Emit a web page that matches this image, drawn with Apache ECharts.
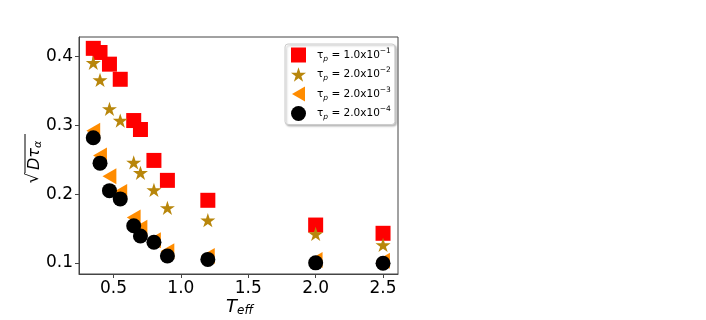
<!DOCTYPE html>
<html><head><meta charset="utf-8">
<script src="https://cdn.jsdelivr.net/npm/echarts@6/dist/echarts.min.js"></script>
<style>html,body{margin:0;padding:0;background:#fff}#c{width:706px;height:320px}</style>
</head><body><div id="c"></div>
<script>
const xVals = [0.35, 0.40, 0.47, 0.55, 0.65, 0.70, 0.80, 0.90, 1.20, 2.00, 2.50];
const tau1 = [0.412, 0.406, 0.389, 0.367, 0.307, 0.294, 0.249, 0.220, 0.191, 0.155, 0.143];
const tau2 = [0.391, 0.366, 0.324, 0.307, 0.246, 0.231, 0.206, 0.180, 0.162, 0.142, 0.126];
const tau3 = [0.292, 0.256, 0.226, 0.203, 0.166, 0.151, 0.133, 0.117, 0.110, 0.104, 0.103];
const tau4 = [0.282, 0.245, 0.205, 0.193, 0.154, 0.139, 0.130, 0.110, 0.105, 0.100, 0.0995];
const xTicks = [0.5, 1.0, 1.5, 2.0, 2.5];
const yTicks = [0.1, 0.2, 0.3, 0.4];
const legendLabels = [
  ['1.0', '\u22121'], ['2.0', '\u22122'], ['2.0', '\u22123'], ['2.0', '\u22124']
];
const seriesNames = ['s1', 's2', 's3', 's4'];

const star = 'path://M50,0 L61.2,34.5 L97.6,34.5 L68.2,55.9 L79.4,90.5 L50,69.1 L20.6,90.5 L31.8,55.9 L2.4,34.5 L38.8,34.5 Z';
const triLeft = 'path://M0,50 L86.6,0 L86.6,100 Z';
const pairs = a => xVals.map((x, i) => [x, a[i]]);

const chart = echarts.init(document.getElementById('c'), null, {renderer: 'canvas'});
const FONT = 'DejaVu Sans';
const axisCommon = {
  axisLine: {show: true, onZero: false, lineStyle: {color: '#444', width: 1}},
  splitLine: {show: false},
};
chart.setOption({
  animation: false,
  textStyle: {fontFamily: FONT},
  grid: {left: 79, right: 308, top: 37, bottom: 46, show: true, borderColor: '#444', borderWidth: 1, backgroundColor: 'transparent'},
  xAxis: Object.assign({
    type: 'value', min: 0.244, max: 2.611,
    axisTick: {show: true, customValues: xTicks, length: 4, lineStyle: {color: '#444'}},
    axisLabel: {customValues: xTicks, fontSize: 17, color: '#000', margin: 6, fontFamily: FONT,
      formatter: v => v.toFixed(1)},
  }, axisCommon),
  yAxis: Object.assign({
    type: 'value', min: 0.0838, max: 0.4285,
    axisTick: {show: true, customValues: yTicks, length: 4, lineStyle: {color: '#444'}},
    axisLabel: {customValues: yTicks, fontSize: 17, color: '#000', margin: 6, fontFamily: FONT,
      formatter: v => v.toFixed(1)},
  }, axisCommon),
  legend: {
    orient: 'vertical', left: 285, top: 44,
    data: [
      {name: 's1', icon: 'rect'},
      {name: 's2', icon: star},
      {name: 's3', icon: triLeft},
      {name: 's4', icon: 'circle'}
    ],
    itemWidth: 15, itemHeight: 15, itemGap: 3.5,
    padding: [3, 4, 3, 6],
    borderColor: '#ccc', borderWidth: 1, borderRadius: 3,
    backgroundColor: '#fff',
    shadowColor: 'rgba(0,0,0,0.25)', shadowBlur: 2, shadowOffsetX: 1.5, shadowOffsetY: 1.5,
    formatter: name => {
      const k = seriesNames.indexOf(name);
      return '{t|\u03c4}{sub|p}{t| = ' + legendLabels[k][0] + 'x10}{sup|' + legendLabels[k][1] + '}';
    },
    textStyle: {
      fontSize: 10.5,
      padding: [0, 0, 0, 6],
      rich: {
        t: {fontSize: 10.5, fontFamily: FONT, color: '#000', lineHeight: 16, verticalAlign: 'middle'},
        sub: {fontSize: 7.5, fontStyle: 'italic', fontFamily: FONT, color: '#000', lineHeight: 8, verticalAlign: 'bottom'},
        sup: {fontSize: 7.5, fontFamily: FONT, color: '#000', lineHeight: 8, verticalAlign: 'top'}
      }
    }
  },
  series: [
    {name: 's1', type: 'scatter', data: pairs(tau1), symbol: 'rect', symbolSize: 15, itemStyle: {color: '#ff0000', opacity: 1}},
    {name: 's2', type: 'scatter', data: pairs(tau2), symbol: star, symbolKeepAspect: true, symbolSize: 15, itemStyle: {color: '#b8860b', opacity: 1}},
    {name: 's3', type: 'scatter', data: pairs(tau3), symbol: triLeft, symbolKeepAspect: true, symbolSize: 16, itemStyle: {color: '#ff8c00', opacity: 1}},
    {name: 's4', type: 'scatter', data: pairs(tau4), symbol: 'circle', symbolSize: 15, itemStyle: {color: '#000000', opacity: 1}}
  ],
  graphic: [
    {type: 'text', left: 226, top: 298,
      style: {text: '{i|T}{s|eff}', rich: {
        i: {fontSize: 18, fontStyle: 'italic', fontFamily: FONT, fill: '#000', lineHeight: 20, verticalAlign: 'middle'},
        s: {fontSize: 12, fontStyle: 'italic', fontFamily: FONT, fill: '#000', lineHeight: 10, verticalAlign: 'bottom'}
      }}},
    {type: 'group', x: 34, y: 156, rotation: Math.PI / 2, children: [
      {type: 'text', x: -22, y: 0, style: {text: '\u221a', fontSize: 17, fontFamily: FONT, fill: '#000', align: 'center', verticalAlign: 'middle'}},
      {type: 'line', shape: {x1: -17, y1: -9, x2: 22, y2: -9}, style: {stroke: '#000', lineWidth: 1}},
      {type: 'text', x: -14, y: 1, style: {text: '{i|D\u03c4}{s|\u03b1}', verticalAlign: 'middle', rich: {
        i: {fontSize: 16, fontStyle: 'italic', fontFamily: FONT, fill: '#000', lineHeight: 18, verticalAlign: 'middle'},
        s: {fontSize: 11, fontStyle: 'italic', fontFamily: FONT, fill: '#000', lineHeight: 9, verticalAlign: 'bottom'}
      }}}
    ]}
  ]
});
</script></body></html>
